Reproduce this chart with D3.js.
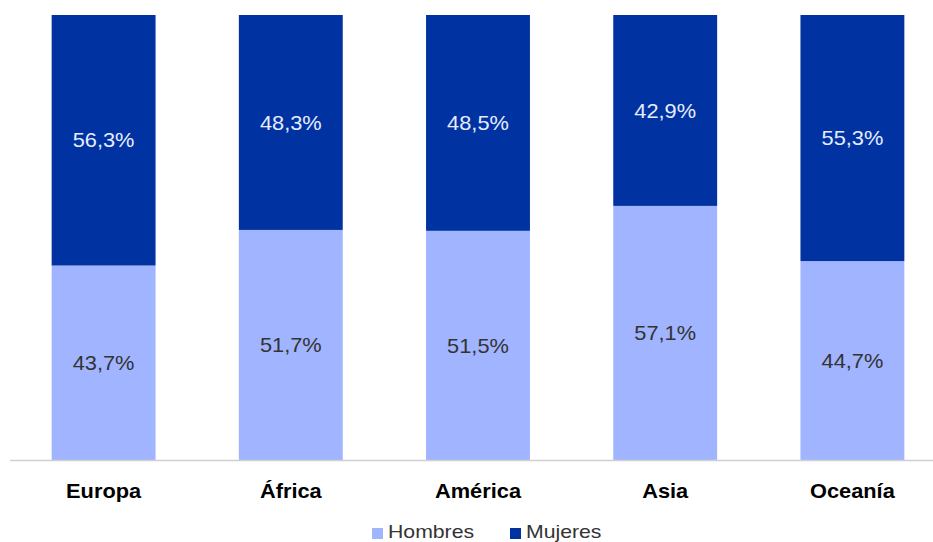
<!DOCTYPE html>
<html><head><meta charset="utf-8">
<script src="https://cdn.jsdelivr.net/npm/d3@7"></script>
<style>body{margin:0;background:#fff}svg{display:block}</style>
</head><body>
<svg id="c" width="933" height="542"></svg>
<script>
const categories = ["Europa","África","América","Asia","Oceanía"];
const hombres = [43.7, 51.7, 51.5, 57.1, 44.7];
const mujeres = [56.3, 48.3, 48.5, 42.9, 55.3];
const seriesNames = ["Hombres","Mujeres"];
const colors = ["#a1b4ff","#0033a1"];
const labelColors = ["#333333","#e6ecff"];

const svg = d3.select("#c");
const font = "'Liberation Sans', Arial, Helvetica, sans-serif";
const x = d3.scaleBand().domain(categories).range([10, 946]).paddingInner(0.445).paddingOuter(0.2225);
const y = d3.scaleLinear().domain([0, 100]).range([460, 15]);

const data = categories.map((c, i) => ({cat: c, Hombres: hombres[i], Mujeres: mujeres[i]}));
const stack = d3.stack().keys(seriesNames)(data);

const fmt = v => v.toFixed(1).replace(".", ",") + "%";

stack.forEach((s, si) => {
  const g = svg.append("g");
  g.selectAll("rect").data(s).join("rect")
    .attr("x", d => x(d.data.cat))
    .attr("width", x.bandwidth())
    .attr("y", d => y(d[1]))
    .attr("height", d => y(d[0]) - y(d[1]))
    .attr("fill", colors[si]);
  g.selectAll("text").data(s).join("text")
    .attr("transform", d => `translate(${x(d.data.cat) + x.bandwidth() / 2},${(y(d[0]) + y(d[1])) / 2}) scale(1.09,1)`)
    .attr("dy", "0.36em")
    .attr("text-anchor", "middle")
    .attr("font-family", font)
    .attr("font-size", 20)
    .attr("fill", labelColors[si])
    .text(d => fmt(d[1] - d[0]));
});

// baseline axis
const ax = svg.append("g").attr("transform", "translate(0,460)")
  .call(d3.axisBottom(x).tickSize(0).tickPadding(0));
ax.select(".domain").attr("d", "M10,0.5H933").attr("stroke", "#d0d0d0").attr("stroke-width", 1.5);
ax.selectAll(".tick text")
  .attr("y", 0)
  .attr("dy", 0)
  .attr("transform", "translate(0,38) scale(1.09,1)")
  .attr("font-family", font)
  .attr("font-size", 20)
  .attr("font-weight", "bold")
  .attr("fill", "#000");

// legend
const legendItems = [{name: "Hombres", x: 372}, {name: "Mujeres", x: 510}];
const lg = svg.append("g");
legendItems.forEach((it, i) => {
  lg.append("rect").attr("x", it.x).attr("y", 528).attr("width", 11).attr("height", 11).attr("fill", colors[i]);
  lg.append("text").attr("transform", `translate(${it.x + 16},538) scale(1.18,1)`)
    .attr("font-family", font).attr("font-size", 18)
    .attr("fill", "#333").text(it.name);
});
</script>
</body></html>
